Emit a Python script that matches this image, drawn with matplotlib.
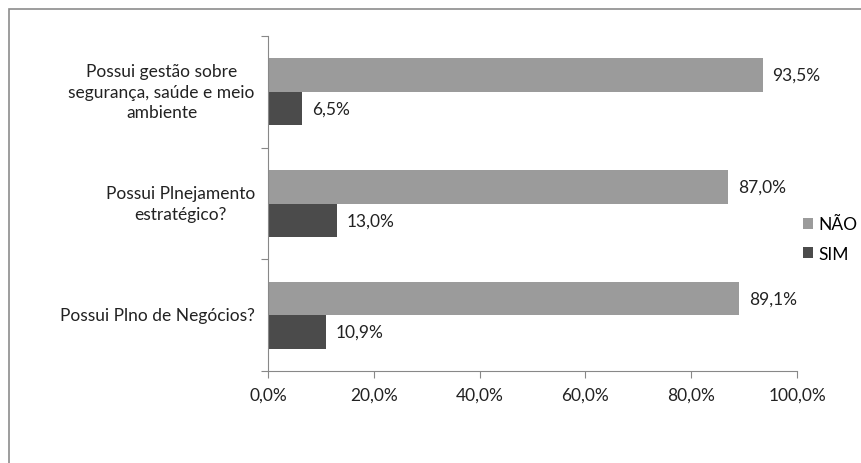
import matplotlib.pyplot as plt
from matplotlib.patches import Rectangle
from matplotlib.ticker import FuncFormatter, FixedLocator

categories = ['Possui Plno de Negócios?',
              'Possui Plnejamento\nestratégico?',
              'Possui gestão sobre\nsegurança, saúde e meio\nambiente']
nao = [89.1, 87.0, 93.5]
sim = [10.9, 13.0, 6.5]

plt.rcParams['font.family'] = ['Lato', 'DejaVu Sans']

fig = plt.figure(figsize=(8.61, 4.64), dpi=100)
# outer chart frame (bottom/right run off the picture)
fig.patches.append(Rectangle((9 / 861, -0.05), 1.05, 1.05 - 10 / 464,
                             transform=fig.transFigure, fill=False,
                             edgecolor='#8c8c8c', linewidth=1.2))
ax = fig.add_axes([268 / 861, 1 - 372 / 464, (797 - 268) / 861, (372 - 37) / 464])

h = 0.3
ypos = list(range(len(categories)))
b1 = ax.barh([y + h / 2 for y in ypos], nao, height=h, color='#9b9b9b', label='NÃO')
b2 = ax.barh([y - h / 2 for y in ypos], sim, height=h, color='#4b4b4b', label='SIM')

for y, v in zip(ypos, nao):
    ax.text(v + 1.8, y + h / 2, '{:.1f}%'.format(v).replace('.', ','),
            va='center', ha='left', fontsize=12.5, color='#222222')
for y, v in zip(ypos, sim):
    ax.text(v + 1.8, y - h / 2, '{:.1f}%'.format(v).replace('.', ','),
            va='center', ha='left', fontsize=12.5, color='#222222')

ax.set_xlim(0, 100)
ax.set_ylim(-0.5, 2.5)
ax.set_xticks([0, 20, 40, 60, 80, 100])
ax.xaxis.set_major_formatter(FuncFormatter(lambda x, p: '{:.1f}%'.format(x).replace('.', ',')))
ax.yaxis.set_major_locator(FixedLocator([-0.5, 0.5, 1.5, 2.5]))
ax.set_yticklabels([])
ax.tick_params(axis='y', length=5, color='#888888', direction='out')
ax.tick_params(axis='x', length=5, color='#888888', direction='out', labelsize=12.5, pad=6,
               labelcolor='#222222')
for y, c in zip(ypos, categories):
    ax.text(-2.5, y, c, ha='right', va='center', fontsize=12.5, color='#222222',
            multialignment='center', linespacing=1.35)

for s in ['top', 'right']:
    ax.spines[s].set_visible(False)
ax.spines['left'].set_color('#888888')
ax.spines['bottom'].set_color('#888888')

leg = fig.legend(handles=[b1, b2], loc='center left', bbox_to_anchor=(803 / 861, 1 - 240 / 464),
                 frameon=False, fontsize=12.5, handlelength=0.6, handleheight=0.6,
                 handletextpad=0.3, labelspacing=0.75, borderaxespad=0, borderpad=0)

fig.savefig('out.png', dpi=100)
